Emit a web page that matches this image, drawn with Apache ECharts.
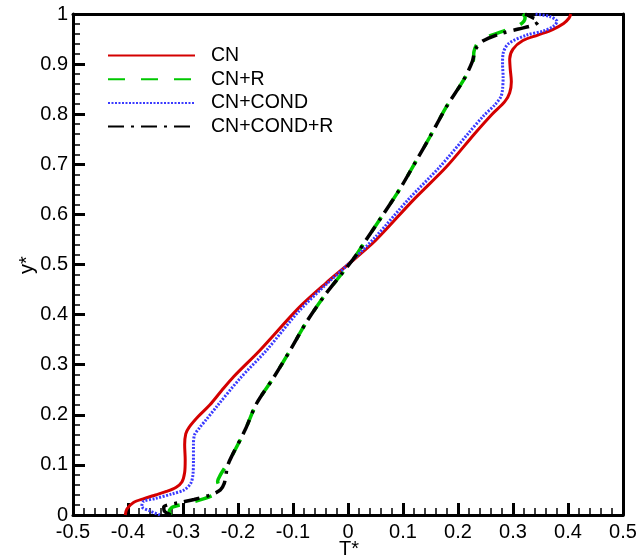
<!DOCTYPE html>
<html>
<head>
<meta charset="utf-8">
<script src="https://cdn.jsdelivr.net/npm/echarts@6/dist/echarts.min.js"></script>
<style>
html,body{margin:0;padding:0;background:#fff;}
#chart{width:636px;height:558px;}
</style>
</head>
<body>
<div id="chart"></div>
<script>
// Series names (legend)
const seriesNames = ['CN', 'CN+R', 'CN+COND', 'CN+COND+R'];
const xName = 'T*';
const yName = 'y*';

// CN (red, solid)
const cnT = [-0.405,-0.402,-0.39,-0.37,-0.35,-0.33,-0.313,-0.302,-0.297,-0.296,-0.297,-0.295,-0.289,-0.272,-0.251,-0.23,-0.208,-0.16,-0.09,-0.04,0,0.05,0.119,0.179,0.231,0.262,0.285,0.294,0.297,0.295,0.294,0.3,0.318,0.345,0.372,0.392,0.402,0.405];
const cnY = [0,0.012,0.025,0.033,0.04,0.047,0.055,0.066,0.085,0.11,0.14,0.162,0.175,0.197,0.22,0.248,0.276,0.329,0.413,0.463,0.5,0.548,0.629,0.695,0.762,0.8,0.825,0.843,0.865,0.89,0.91,0.93,0.947,0.958,0.969,0.981,0.992,1.0];

// CN+R (green, dashed)
const cnrT = [-0.322,-0.325,-0.318,-0.29,-0.26,-0.24,-0.234,-0.237,-0.232,-0.222,-0.212,-0.187,-0.166,-0.136,-0.105,-0.075,-0.042,-0.011,0.013,0.031,0.061,0.095,0.125,0.149,0.179,0.21,0.228,0.229,0.236,0.255,0.285,0.31,0.32,0.322,0.318];
const cnrY = [0,0.008,0.016,0.024,0.033,0.043,0.055,0.067,0.08,0.098,0.116,0.17,0.223,0.273,0.329,0.386,0.439,0.482,0.516,0.546,0.595,0.652,0.709,0.755,0.815,0.868,0.908,0.925,0.942,0.955,0.967,0.977,0.986,0.993,1.0];

// CN+COND (blue, dotted)
const cncT = [-0.342,-0.36,-0.375,-0.372,-0.35,-0.32,-0.298,-0.286,-0.282,-0.281,-0.281,-0.279,-0.27,-0.258,-0.239,-0.196,-0.148,-0.09,-0.04,0,0.05,0.109,0.167,0.219,0.245,0.268,0.278,0.281,0.282,0.281,0.282,0.292,0.325,0.355,0.373,0.38,0.367,0.34];
const cncY = [0,0.008,0.017,0.027,0.033,0.042,0.05,0.063,0.08,0.11,0.14,0.16,0.174,0.19,0.216,0.273,0.329,0.406,0.46,0.5,0.555,0.629,0.695,0.762,0.795,0.82,0.835,0.85,0.875,0.9,0.921,0.941,0.958,0.966,0.975,0.985,0.995,1.0];

// CN+COND+R (black, dash-dot)
const cncrT = [-0.322,-0.334,-0.335,-0.31,-0.28,-0.25,-0.232,-0.225,-0.222,-0.219,-0.212,-0.187,-0.166,-0.136,-0.105,-0.075,-0.042,-0.011,0.013,0.031,0.061,0.095,0.125,0.149,0.179,0.21,0.226,0.232,0.245,0.275,0.31,0.338,0.347,0.335,0.322];
const cncrY = [0,0.008,0.016,0.024,0.031,0.04,0.05,0.063,0.08,0.098,0.116,0.17,0.223,0.273,0.329,0.386,0.439,0.482,0.516,0.546,0.595,0.652,0.709,0.755,0.815,0.868,0.905,0.93,0.946,0.96,0.97,0.978,0.986,0.993,1.0];

const xTicks = {min: -0.5, max: 0.5, interval: 0.1};
const yTicks = {min: 0, max: 1, interval: 0.1};

const zip = (a, b) => a.map((v, i) => [v, b[i]]);
const FONT = 'Liberation Sans, Arial, Helvetica, sans-serif';

const styles = [
  {color: '#d40000', width: 3, type: 'solid'},
  {color: '#00c800', width: 3.5, type: [17, 16]},
  {color: '#3a3aff', width: 3, type: [2, 1.5]},
  {color: '#000000', width: 3.5, type: [16, 7, 3, 7]}
];
const dataSets = [zip(cnT, cnY), zip(cnrT, cnrY), zip(cncT, cncY), zip(cncrT, cncrY)];

// plot box (pixels from the edges)
const G = {left: 73, right: 13, top: 14, bottom: 43};
const MAJOR = 12, MINOR = 7;

function mainAxis(range, extra) {
  return Object.assign({
    type: 'value', min: range.min, max: range.max, interval: range.interval,
    axisLine: {show: true, onZero: false, lineStyle: {color: '#000', width: 3}},
    axisTick: {show: false}, minorTick: {show: false},
    splitLine: {show: false}, minorSplitLine: {show: false}
  }, extra);
}
function frameAxis(range, pos) {
  return {
    type: 'value', min: range.min, max: range.max, interval: range.interval, position: pos,
    axisLine: {show: true, onZero: false, lineStyle: {color: '#000', width: 3}},
    axisTick: {show: false}, minorTick: {show: false}, axisLabel: {show: false},
    splitLine: {show: false}
  };
}
// axis inside a thin strip grid: its split lines become the inward ticks
function stripAxis(range, gridIndex, minor) {
  return {
    type: 'value', gridIndex: gridIndex, min: range.min, max: range.max, interval: range.interval,
    axisLine: {show: false, onZero: false}, axisTick: {show: false}, axisLabel: {show: false},
    minorTick: {show: false, splitNumber: 5},
    splitLine: {show: !minor, lineStyle: {color: '#000', width: 3}},
    minorSplitLine: {show: minor, lineStyle: {color: '#000', width: 1.5}}
  };
}
function hiddenAxis(gridIndex) {
  return {type: 'value', gridIndex: gridIndex, show: false, min: 0, max: 1};
}

const chart = echarts.init(document.getElementById('chart'), null, {renderer: 'canvas'});
chart.setOption({
  animation: false,
  backgroundColor: '#fff',
  grid: [
    {left: G.left, right: G.right, top: G.top, bottom: G.bottom, outerBoundsMode: 'none', containLabel: false},
    {left: G.left, right: G.right, bottom: G.bottom, height: MAJOR, outerBoundsMode: 'none', containLabel: false},
    {left: G.left, right: G.right, bottom: G.bottom, height: MINOR, outerBoundsMode: 'none', containLabel: false},
    {left: G.left, width: MAJOR, top: G.top, bottom: G.bottom, outerBoundsMode: 'none', containLabel: false},
    {left: G.left, width: MINOR, top: G.top, bottom: G.bottom, outerBoundsMode: 'none', containLabel: false}
  ],
  legend: {
    orient: 'vertical', left: 107, top: 45.5, padding: 0,
    itemWidth: 87, itemHeight: 20, itemGap: 3.7,
    data: seriesNames,
    itemStyle: {opacity: 0},
    textStyle: {fontSize: 19.5, fontFamily: FONT, color: '#000', lineHeight: 20, padding: [0, 0, 0, 11]}
  },
  xAxis: [
    mainAxis(xTicks, {
      gridIndex: 0, position: 'bottom',
      axisLabel: {fontSize: 20, fontFamily: FONT, color: '#000', margin: 7, showMinLabel: true, showMaxLabel: true}
    }),
    frameAxis(xTicks, 'top'),
    stripAxis(xTicks, 1, false),
    stripAxis(xTicks, 2, true),
    hiddenAxis(3),
    hiddenAxis(4)
  ],
  yAxis: [
    mainAxis(yTicks, {
      gridIndex: 0, position: 'left',
      axisLabel: {fontSize: 20, fontFamily: FONT, color: '#000', margin: 5, showMinLabel: true, showMaxLabel: true}
    }),
    frameAxis(yTicks, 'right'),
    hiddenAxis(1),
    hiddenAxis(2),
    stripAxis(yTicks, 3, false),
    stripAxis(yTicks, 4, true)
  ],
  graphic: [
    {type: 'text', x: 349, y: 549, z: 10,
     style: {text: xName, fontSize: 20, fontFamily: FONT, fill: '#000', align: 'center', verticalAlign: 'middle'}},
    {type: 'text', x: 27, y: 265, rotation: Math.PI / 2, z: 10,
     style: {text: yName, fontSize: 20, fontFamily: FONT, fill: '#000', align: 'center', verticalAlign: 'middle'}}
  ],
  series: seriesNames.map((name, i) => ({
    name: name,
    type: 'line',
    xAxisIndex: 0, yAxisIndex: 0,
    data: dataSets[i],
    smooth: 0.3,
    symbol: 'none',
    showSymbol: false,
    clip: true,
    lineStyle: {color: styles[i].color, width: styles[i].width, type: styles[i].type, cap: 'butt'},
    itemStyle: {color: styles[i].color},
    z: 2 + i
  }))
});
</script>
</body>
</html>
